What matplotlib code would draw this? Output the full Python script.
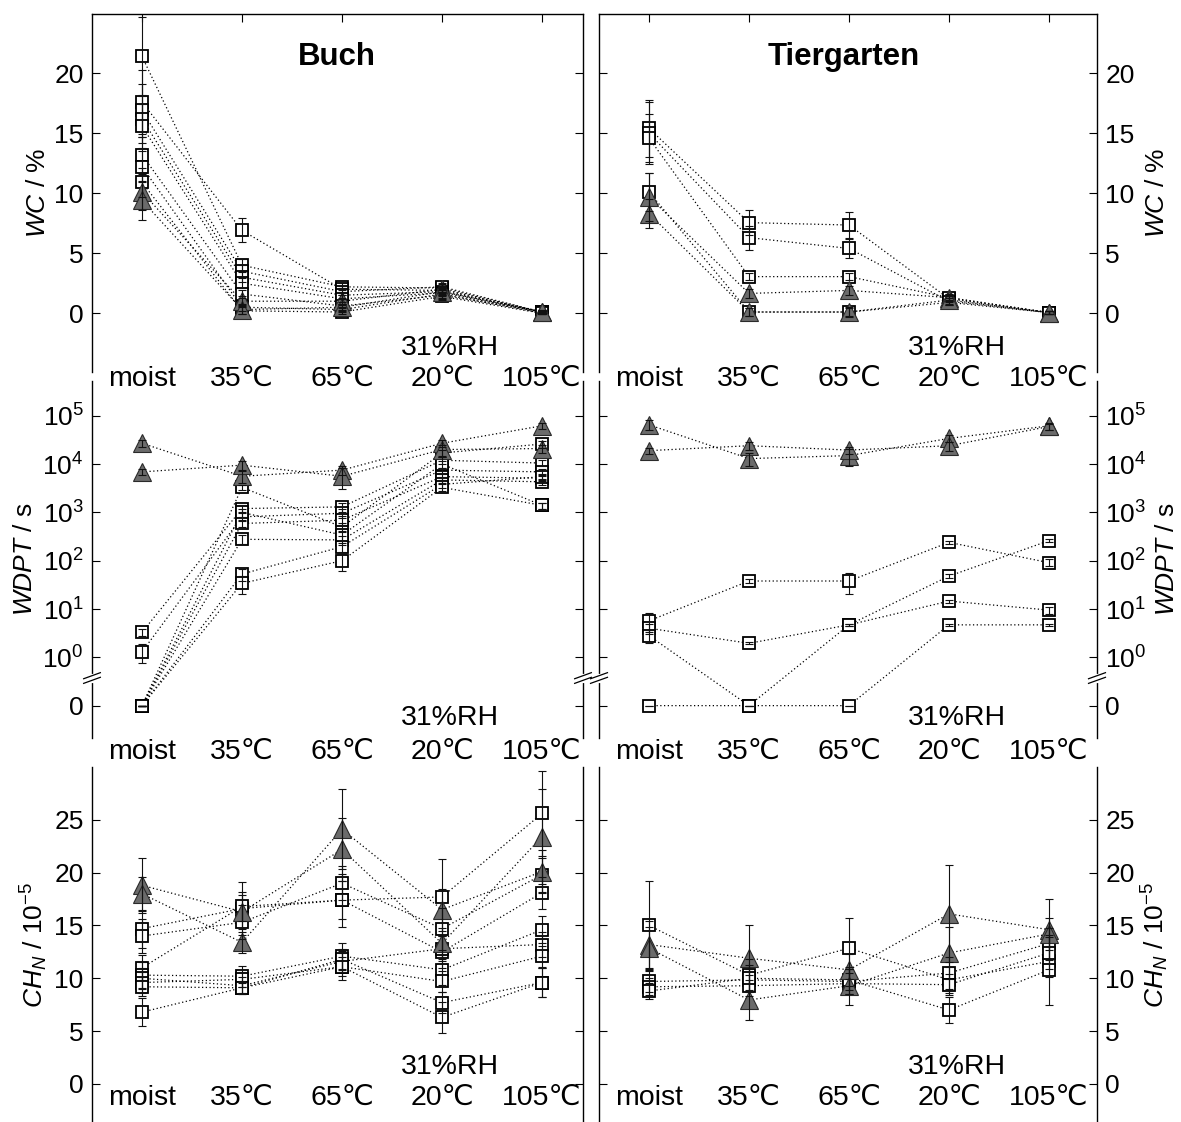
import numpy as np
import matplotlib
matplotlib.use('Agg')
import matplotlib.pyplot as plt

plt.rcParams['font.family'] = ['Liberation Sans', 'DejaVu Sans']
plt.rcParams['mathtext.fontset'] = 'custom'
plt.rcParams['mathtext.rm'] = 'Liberation Sans'
plt.rcParams['mathtext.it'] = 'Liberation Sans:italic'

conds = ['moist', '35℃', '65℃', '20℃', '105℃']
sites = ['Buch', 'Tiergarten']

# ---- Buch: 8 wettable samples (squares), 2 repellent (triangles)
buch_wc_sq = [[21.4, 4.0, 2.2, 2.1, 0.1],
              [17.6, 6.9, 2.0, 1.9, 0.1],
              [16.9, 3.5, 1.8, 2.2, 0.1],
              [16.2, 3.0, 1.5, 1.8, 0.1],
              [15.6, 2.5, 1.2, 1.7, 0.1],
              [13.2, 1.6, 0.6, 1.5, 0.1],
              [12.2, 0.5, 0.3, 1.6, 0.0],
              [10.9, 0.2, 0.1, 1.4, 0.0]]
buch_wc_sq_err = [[3.3, 0.5, 0.3, 0.3, 0.1],
                  [2.7, 1.0, 0.3, 0.3, 0.1],
                  [2.2, 0.5, 0.3, 0.3, 0.1],
                  [2.0, 0.4, 0.3, 0.3, 0.1],
                  [1.8, 0.4, 0.3, 0.3, 0.1],
                  [1.5, 0.3, 0.2, 0.3, 0.1],
                  [1.3, 0.3, 0.2, 0.3, 0.1],
                  [1.2, 0.3, 0.2, 0.3, 0.1]]
buch_wc_tri = [[10.1, 1.0, 1.0, 2.0, 0.1],
               [9.4, 0.3, 0.5, 1.8, 0.1]]
buch_wc_tri_err = [[1.5, 0.4, 0.3, 0.3, 0.2],
                   [1.6, 0.4, 0.3, 0.3, 0.2]]

buch_wdpt_sq = [[0, 3300, 500, 17000, 26000],
                [3.3, 1200, 1300, 12000, 10500],
                [1.3, 810, 960, 7500, 6900],
                [0, 590, 690, 5500, 5100],
                [0, 277, 270, 4700, 4300],
                [0, 53, 195, 3800, 5500],
                [0, 34, 100, 3300, 1400],
                [0, 1000, 340, 10000, 1400]]
buch_wdpt_sq_err = [[0, 400, 100, 3000, 4000],
                    [0.5, 200, 300, 2000, 1500],
                    [0.55, 150, 200, 1000, 1000],
                    [0, 100, 150, 800, 700],
                    [0, 60, 60, 700, 600],
                    [0, 15, 40, 600, 800],
                    [0, 14, 40, 500, 200],
                    [0, 200, 80, 1500, 200]]
buch_wdpt_tri = [[27000, 5600, 7500, 27000, 62000],
                 [6900, 9500, 5600, 20000, 21000]]
buch_wdpt_tri_err = [[4000, 1500, 1500, 4000, 9000],
                     [1000, 2000, 2600, 5000, 4000]]

buch_ch_sq = [[14.7, 16.6, 17.4, 17.7, 25.6],
              [14.0, 15.3, 19.0, 14.7, 19.8],
              [11.0, 16.8, 17.4, 12.5, 18.1],
              [10.3, 10.2, 12.1, 10.8, 14.6],
              [10.0, 9.3, 11.6, 12.8, 13.2],
              [9.6, 9.9, 11.1, 9.7, 12.1],
              [9.2, 9.1, 11.8, 7.7, 9.6],
              [6.8, 9.1, 11.1, 6.3, 9.6]]
buch_ch_sq_err = [[1.8, 2.5, 2.5, 3.6, 4.0],
                  [1.6, 1.6, 1.6, 2.0, 1.6],
                  [1.2, 1.4, 1.8, 1.5, 1.5],
                  [1.2, 1.0, 1.2, 1.4, 1.3],
                  [1.0, 0.8, 1.0, 1.2, 1.2],
                  [1.0, 0.7, 0.9, 1.0, 1.0],
                  [0.9, 0.6, 1.0, 1.0, 1.4],
                  [1.3, 0.5, 1.3, 1.5, 1.4]]
buch_ch_tri = [[18.8, 16.3, 22.2, 13.3, 23.4],
               [18.0, 13.4, 24.1, 16.5, 20.1]]
buch_ch_tri_err = [[2.6, 1.6, 3.0, 1.5, 4.5],
                   [1.6, 1.0, 3.8, 2.0, 2.0]]

# ---- Tiergarten: 4 squares, 2 triangles
tier_wc_sq = [[15.4, 7.55, 7.35, 1.2, 0.05],
              [15.0, 6.3, 5.4, 1.0, 0.05],
              [14.6, 3.05, 3.05, 1.3, 0.05],
              [10.1, 0.1, 0.1, 0.9, 0.05]]
tier_wc_sq_err = [[2.4, 1.05, 1.05, 0.3, 0.1],
                  [2.6, 1.0, 0.8, 0.3, 0.1],
                  [2.0, 0.3, 0.3, 0.3, 0.1],
                  [1.6, 0.3, 0.3, 0.2, 0.1]]
tier_wc_tri = [[9.7, 1.65, 1.9, 1.3, 0.05],
               [8.3, 0.1, 0.1, 1.1, 0.05]]
tier_wc_tri_err = [[2.0, 0.4, 0.4, 0.3, 0.1],
                   [1.2, 0.3, 0.4, 0.3, 0.1]]

tier_wdpt_sq = [[5.7, 38, 38, 240, 91],
                [4.0, 1.95, 4.7, 48, 260],
                [2.8, 0, 4.7, 14.6, 9.5],
                [0, 0, 0, 4.7, 4.7]]
tier_wdpt_sq_err = [[2.4, 3, 18, 20, 15],
                    [1.0, 0.1, 0.3, 5, 20],
                    [0.8, 0, 0.3, 1, 1.5],
                    [0, 0, 0, 0.3, 0.3]]
tier_wdpt_tri = [[65000, 13000, 15000, 34000, 62000],
                 [19000, 24000, 19500, 24000, 60000]]
tier_wdpt_tri_err = [[15000, 4000, 6000, 6000, 10000],
                     [3000, 4000, 3000, 5000, 8000]]

tier_ch_sq = [[15.0, 10.3, 12.85, 9.85, 11.6],
              [9.7, 9.85, 9.7, 10.5, 13.3],
              [9.2, 9.3, 9.5, 9.4, 12.4],
              [8.8, 10.0, 9.85, 7.0, 10.8]]
tier_ch_sq_err = [[4.2, 1.5, 2.9, 1.2, 1.5],
                  [1.0, 1.0, 1.2, 1.5, 1.5],
                  [0.8, 1.0, 1.0, 1.0, 1.5],
                  [0.8, 1.3, 1.0, 1.2, 3.3]]
tier_ch_tri = [[13.2, 11.9, 10.8, 16.1, 14.6],
               [12.85, 7.95, 9.3, 12.4, 14.2]]
tier_ch_tri_err = [[2.2, 3.1, 1.5, 4.6, 2.9],
                   [2.0, 1.85, 1.8, 2.5, 1.5]]

panels = {
    (0, 0): (buch_wc_sq, buch_wc_sq_err, buch_wc_tri, buch_wc_tri_err),
    (1, 0): (buch_wdpt_sq, buch_wdpt_sq_err, buch_wdpt_tri, buch_wdpt_tri_err),
    (2, 0): (buch_ch_sq, buch_ch_sq_err, buch_ch_tri, buch_ch_tri_err),
    (0, 1): (tier_wc_sq, tier_wc_sq_err, tier_wc_tri, tier_wc_tri_err),
    (1, 1): (tier_wdpt_sq, tier_wdpt_sq_err, tier_wdpt_tri, tier_wdpt_tri_err),
    (2, 1): (tier_ch_sq, tier_ch_sq_err, tier_ch_tri, tier_ch_tri_err),
}

ZERO_POS = 0.1  # where WDPT = 0 is drawn below the axis break

SQ = dict(marker='s', ms=9, mfc='white', mec='black', mew=1.3)
TRI = dict(marker='^', ms=13, mfc='#6b6b6b', mec='#2a2a2a', mew=0.8)


def draw(ax, sq, sq_err, tri, tri_err, log=False):
    x = np.arange(len(conds))
    groups = [(sq, sq_err, SQ), (tri, tri_err, TRI)]
    for vals, errs, style in groups:
        for v, e in zip(vals, errs):
            v = np.asarray(v, float)
            e = np.asarray(e, float)
            if log:
                v = np.where(v == 0, ZERO_POS, v)
            ax.plot(x, v, ls=(0, (1, 2)), lw=0.9, color='k', zorder=1)
            ax.plot(x, v, ls='none', zorder=2, **style)
            ax.errorbar(x, v, yerr=e, fmt='none', ecolor='#111111',
                        elinewidth=0.8, capsize=3, capthick=0.8, zorder=3)


def axis_break(ax, yb):
    dx, dy = 0.017, 0.017
    for xs in (0, 1):
        ax.plot([xs, xs], [yb - 0.007, yb + 0.007], transform=ax.transAxes,
                color='white', lw=3, clip_on=False, zorder=5)
        for off in (-0.0065, 0.0065):
            ax.plot([xs - dx, xs + dx], [yb + off - dy / 2, yb + off + dy / 2],
                    transform=ax.transAxes, color='k', lw=0.9,
                    clip_on=False, zorder=6)


W, H = 1181, 1122
fig = plt.figure(figsize=(W / 100, H / 100), dpi=100)
cols = [(92, 583), (599, 1097)]
rows = [(14, 372), (381, 738), (767, 1122)]
xlims = [(-0.5, 4.41), (-0.5, 4.48)]
ylims = [(-4.9, 24.94), (10 ** -1.67, 10 ** 5.72), (-3.6, 30.0)]
lab_y = [-0.02, -0.04, 0.068]
rh_y = [0.067, 0.056, 0.155]
ylab_left = [-0.085, -0.112, -0.085]
ylab_right = [1.097, 1.116, 1.085]
ylabels = [r'$WC$ / %', r'$WDPT$ / s', r'$CH_N$ / 10$^{-5}$']

for r, (y0, y1) in enumerate(rows):
    for c, (x0, x1) in enumerate(cols):
        ax = fig.add_axes([x0 / W, 1 - y1 / H, (x1 - x0) / W, (y1 - y0) / H])
        ax.patch.set_visible(False)
        sq, sq_err, tri, tri_err = panels[(r, c)]
        if r == 1:
            ax.set_yscale('log')
        draw(ax, sq, sq_err, tri, tri_err, log=(r == 1))
        ax.set_xlim(*xlims[c])
        ax.set_ylim(*ylims[r])

        ax.spines['bottom'].set_visible(False)
        ax.spines['top'].set_visible(r == 0)
        for s in ax.spines.values():
            s.set_linewidth(1.0)

        ax.set_xticks(range(len(conds)))
        ax.tick_params(axis='x', bottom=False, top=(r == 0), direction='in',
                       length=6, labelbottom=False, labeltop=False)

        if r == 0:
            ax.set_yticks([0, 5, 10, 15, 20])
        elif r == 1:
            ax.minorticks_off()
            ax.set_yticks([ZERO_POS, 1, 10, 100, 1e3, 1e4, 1e5])
            ax.set_yticklabels(['0'] + [r'$10^{%d}$' % k for k in range(6)])
        else:
            ax.set_yticks([0, 5, 10, 15, 20, 25])
        ax.tick_params(axis='y', which='both', direction='in', length=6,
                       left=True, right=True, labelleft=(c == 0),
                       labelright=(c == 1), labelsize=19, pad=6)

        for i, lab in enumerate(conds):
            ax.text(i, lab_y[r], lab, transform=ax.get_xaxis_transform(),
                    ha='center', va='center', fontsize=20.5, clip_on=False,
                    zorder=10)
        ax.text(3.08, rh_y[r], '31%RH', transform=ax.get_xaxis_transform(),
                ha='center', va='center', fontsize=20.5)

        ax.set_ylabel(ylabels[r], fontsize=19)
        if c == 0:
            ax.yaxis.set_label_coords(ylab_left[r], 0.5)
        else:
            ax.yaxis.set_label_position('right')
            ax.yaxis.set_label_coords(ylab_right[r], 0.5)

        if r == 0:
            ax.text(1.95, 0.88, sites[c], transform=ax.get_xaxis_transform(),
                    ha='center', va='center', fontsize=22.5, fontweight='bold')
        if r == 1:
            axis_break(ax, 0.168)

fig.savefig('out.png', dpi=100)
